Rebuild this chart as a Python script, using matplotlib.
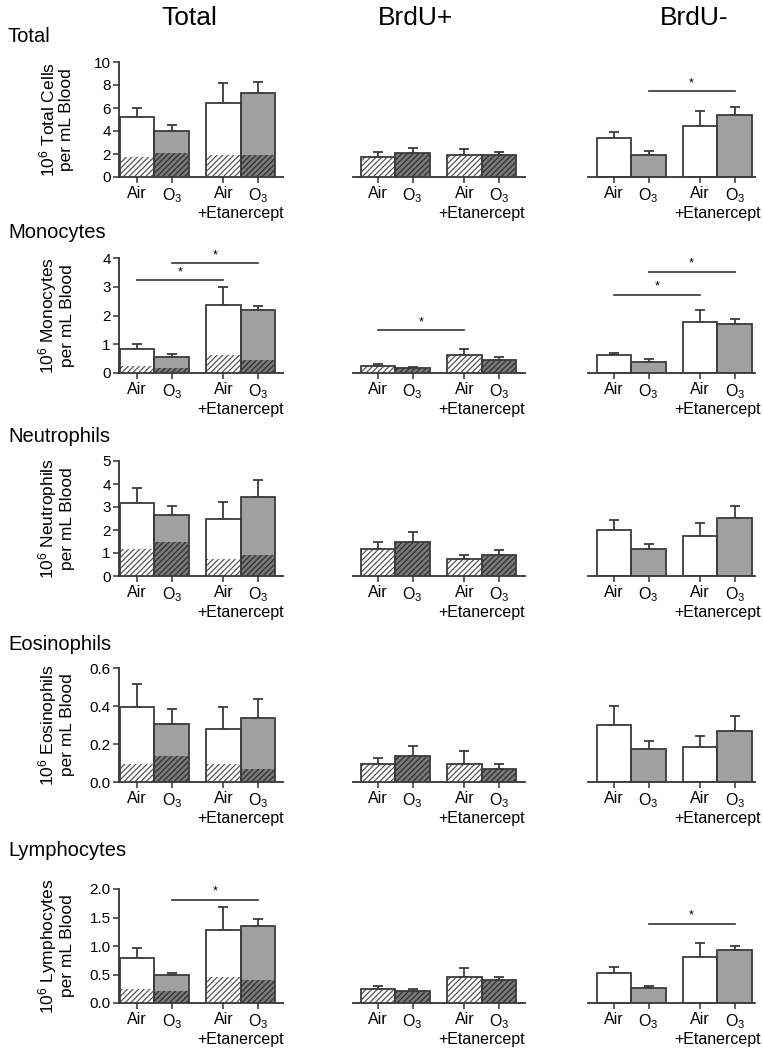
import matplotlib
matplotlib.use('Agg')
import matplotlib.pyplot as plt

plt.rcParams['font.family'] = ['Liberation Sans', 'DejaVu Sans']
plt.rcParams['hatch.linewidth'] = 0.9

# ---- data (mean and SEM) ----
row_names = ['Total', 'Monocytes', 'Neutrophils', 'Eosinophils', 'Lymphocytes']
col_names = ['Total', 'BrdU+', 'BrdU-']
ylabels = ['10$\\mathregular{^6}$ Total Cells\nper mL Blood',
           '10$\\mathregular{^6}$ Monocytes\nper mL Blood',
           '10$\\mathregular{^6}$ Neutrophils\nper mL Blood',
           '10$\\mathregular{^6}$ Eosinophils\nper mL Blood',
           '10$\\mathregular{^6}$ Lymphocytes\nper mL Blood']
groups = ['Air', 'O$\\mathregular{_3}$', 'Air', 'O$\\mathregular{_3}$']

total_all = [5.22, 4.02, 6.40, 7.27]
total_all_sem = [0.81, 0.50, 1.80, 0.99]
total_pos = [1.78, 2.05, 1.95, 1.87]
total_pos_sem = [0.37, 0.47, 0.51, 0.28]
total_neg = [3.40, 1.95, 4.43, 5.37]
total_neg_sem = [0.51, 0.35, 1.28, 0.69]

mono_all = [0.85, 0.56, 2.38, 2.18]
mono_all_sem = [0.15, 0.09, 0.60, 0.16]
mono_pos = [0.25, 0.17, 0.63, 0.46]
mono_pos_sem = [0.06, 0.05, 0.19, 0.10]
mono_neg = [0.62, 0.37, 1.76, 1.71]
mono_neg_sem = [0.09, 0.10, 0.43, 0.18]

neut_all = [3.19, 2.67, 2.49, 3.43]
neut_all_sem = [0.65, 0.36, 0.73, 0.74]
neut_pos = [1.18, 1.50, 0.75, 0.93]
neut_pos_sem = [0.31, 0.43, 0.18, 0.21]
neut_neg = [1.99, 1.17, 1.75, 2.51]
neut_neg_sem = [0.46, 0.24, 0.57, 0.55]

eos_all = [0.397, 0.306, 0.281, 0.336]
eos_all_sem = [0.119, 0.080, 0.115, 0.102]
eos_pos = [0.097, 0.136, 0.097, 0.067]
eos_pos_sem = [0.029, 0.055, 0.066, 0.026]
eos_neg = [0.300, 0.174, 0.184, 0.270]
eos_neg_sem = [0.100, 0.044, 0.056, 0.077]

lym_all = [0.79, 0.49, 1.28, 1.35]
lym_all_sem = [0.17, 0.04, 0.41, 0.12]
lym_pos = [0.245, 0.207, 0.455, 0.405]
lym_pos_sem = [0.06, 0.04, 0.16, 0.055]
lym_neg = [0.53, 0.265, 0.81, 0.93]
lym_neg_sem = [0.11, 0.025, 0.25, 0.07]

ymax = [10, 4, 5, 0.6, 2.0]
yticks = [[0, 2, 4, 6, 8, 10], [0, 1, 2, 3, 4], [0, 1, 2, 3, 4, 5],
          [0.0, 0.2, 0.4, 0.6], [0.0, 0.5, 1.0, 1.5, 2.0]]
ytick_fmt = ['%d', '%d', '%d', '%.1f', '%.1f']

# significance bars: row, column, from bar, to bar, height
sig_lines = [(0, 2, 1, 3, 7.45),
             (1, 0, 0, 2, 3.22), (1, 0, 1, 3, 3.82),
             (1, 1, 0, 2, 1.49),
             (1, 2, 0, 2, 2.72), (1, 2, 1, 3, 3.52),
             (4, 0, 1, 3, 1.81),
             (4, 2, 1, 3, 1.39)]

all_vals = [total_all, mono_all, neut_all, eos_all, lym_all]
all_sems = [total_all_sem, mono_all_sem, neut_all_sem, eos_all_sem, lym_all_sem]
pos_vals = [total_pos, mono_pos, neut_pos, eos_pos, lym_pos]
pos_sems = [total_pos_sem, mono_pos_sem, neut_pos_sem, eos_pos_sem, lym_pos_sem]
neg_vals = [total_neg, mono_neg, neut_neg, eos_neg, lym_neg]
neg_sems = [total_neg_sem, mono_neg_sem, neut_neg_sem, eos_neg_sem, lym_neg_sem]

# ---- styling / layout ----
xpos = [0, 1, 2.5, 3.5]
W, H = 763, 1048
edge = '#3c3c3c'
gray = '#a0a0a0'
dark = '#7a7a7a'
fills = ['white', gray, 'white', gray]
hatch_bg = ['white', dark, 'white', dark]
hatch_fg = ['#555555', '#2e2e2e', '#555555', '#2e2e2e']
HATCH = '//////'

col_px = [(119, 283, -0.53, 4.23), (353, 525, -0.73, 4.26), (588, 755, -0.76, 4.09)]
row_px = [(62, 177), (258, 373), (461, 576), (668, 782), (889, 1003)]
row_label_y = [36, 232, 437, 645, 850]
col_title_x = [189, 415, 694]

fig = plt.figure(figsize=(W / 100, H / 100), dpi=100)


def bar_outline(ax, vals):
    ax.bar(xpos, vals, width=1, fill=False, edgecolor=edge, linewidth=1.3, zorder=4)


def err(ax, vals, sems):
    ax.errorbar(xpos, vals, yerr=[[0] * 4, sems], fmt='none', ecolor=edge,
                elinewidth=1.3, capsize=3.8, capthick=1.3, zorder=1)


for r in range(5):
    top, bot = row_px[r]
    for c in range(3):
        x0, x1, xl, xr = col_px[c]
        ax = fig.add_axes([x0 / W, 1 - bot / H, (x1 - x0) / W, (bot - top) / H])
        if c == 0:
            err(ax, all_vals[r], all_sems[r])
            ax.bar(xpos, all_vals[r], width=1, color=fills, linewidth=0, zorder=2)
            ax.bar(xpos, pos_vals[r], width=1, color=hatch_bg, edgecolor=hatch_fg,
                   hatch=HATCH, linewidth=0, zorder=3)
            bar_outline(ax, all_vals[r])
        elif c == 1:
            err(ax, pos_vals[r], pos_sems[r])
            ax.bar(xpos, pos_vals[r], width=1, color=hatch_bg, edgecolor=hatch_fg,
                   hatch=HATCH, linewidth=0, zorder=3)
            bar_outline(ax, pos_vals[r])
        else:
            err(ax, neg_vals[r], neg_sems[r])
            ax.bar(xpos, neg_vals[r], width=1, color=fills, linewidth=0, zorder=2)
            bar_outline(ax, neg_vals[r])

        ax.set_xlim(xl, xr)
        ax.set_ylim(0, ymax[r])
        ax.set_xticks(xpos)
        ax.set_xticklabels(groups, fontsize=11.5)
        ax.tick_params(axis='x', length=4, width=1.1, color='#333333', pad=2.5)
        for s in ['top', 'right']:
            ax.spines[s].set_visible(False)
        ax.spines['bottom'].set_linewidth(1.3)
        ax.spines['bottom'].set_color('#333333')
        if c == 0:
            ax.set_yticks(yticks[r])
            ax.set_yticklabels([ytick_fmt[r] % v for v in yticks[r]], fontsize=11)
            ax.tick_params(axis='y', length=4, width=1.1, color='#333333', pad=2)
            ax.spines['left'].set_linewidth(1.3)
            ax.spines['left'].set_color('#333333')
            ax.text(-0.385, 0.5, ylabels[r], transform=ax.transAxes, rotation=90,
                    ha='center', va='center', fontsize=12.5, linespacing=1.1)
        else:
            ax.spines['left'].set_visible(False)
            ax.set_yticks([])
        ax.patch.set_alpha(0)
        ax.annotate('+Etanercept', xy=(3.0, 0), xycoords=('data', 'axes fraction'),
                    xytext=(0, -26), textcoords='offset points',
                    ha='center', va='center', fontsize=11.5)

        for (sr, sc, a, b, y) in sig_lines:
            if sr == r and sc == c:
                ax.plot([xpos[a], xpos[b]], [y, y], color='#333333', lw=1.2,
                        clip_on=False)
                ax.annotate('*', xy=((xpos[a] + xpos[b]) / 2, y), xytext=(0, 1.5),
                            textcoords='offset points', ha='center', va='bottom',
                            fontsize=9)

for r in range(5):
    fig.text(8 / W, 1 - row_label_y[r] / H, row_names[r], fontsize=14.5,
             ha='left', va='center')
for c in range(3):
    fig.text(col_title_x[c] / W, 1 - 18 / H, col_names[c], fontsize=19,
             ha='center', va='center')

fig.savefig('out.png', dpi=100)
